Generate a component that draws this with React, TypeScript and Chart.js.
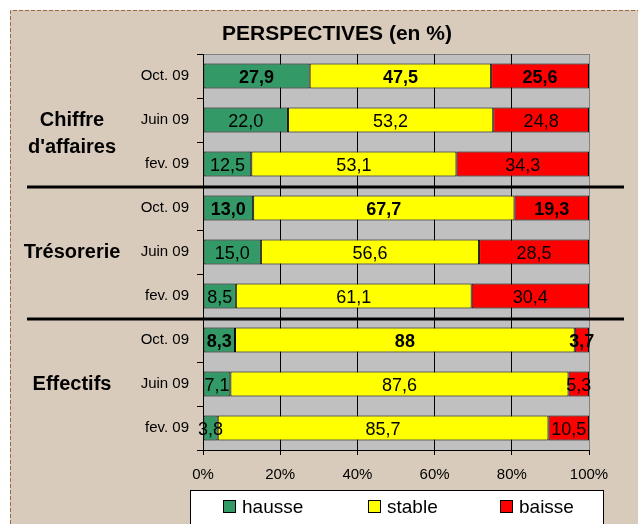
import React, { useEffect, useRef } from 'react';
import { Chart, registerables } from 'chart.js';

Chart.register(...registerables);

const TITLE = 'PERSPECTIVES (en %)';
const categories = ['Oct. 09', 'Juin 09', 'fev. 09', 'Oct. 09', 'Juin 09', 'fev. 09', 'Oct. 09', 'Juin 09', 'fev. 09'];
const groups = [['Chiffre', "d'affaires"], ['Trésorerie'], ['Effectifs']];
const seriesNames = ['hausse', 'stable', 'baisse'];
const hausse = ['27,9', '22,0', '12,5', '13,0', '15,0', '8,5', '8,3', '7,1', '3,8'];
const stable = ['47,5', '53,2', '53,1', '67,7', '56,6', '61,1', '88', '87,6', '85,7'];
const baisse = ['25,6', '24,8', '34,3', '19,3', '28,5', '30,4', '3,7', '5,3', '10,5'];
const xTickStep = 20;
const colors = ['#339966', '#FFFF00', '#FF0000'];

const FONT = '"Liberation Sans", Arial, sans-serif';

const series = [hausse, stable, baisse];
const num = (s: string) => parseFloat(s.replace(',', '.'));
const totals = categories.map((_, i) => series.reduce((acc, s) => acc + num(s[i]), 0));
const normalized = series.map((s) => s.map((v, i) => (num(v) / totals[i]) * 100));

const bgPlugin = {
  id: 'bg',
  beforeDraw(chart: any) {
    const { ctx, chartArea: a, width, height } = chart;
    ctx.save();
    ctx.fillStyle = '#ffffff';
    ctx.fillRect(0, 0, width, height);
    ctx.fillStyle = '#D9CBBB';
    ctx.fillRect(10, 10, width - 10, height - 10);
    ctx.strokeStyle = '#9B6A3C';
    ctx.lineWidth = 1;
    ctx.setLineDash([4, 2]);
    ctx.beginPath();
    ctx.moveTo(10.5, height);
    ctx.lineTo(10.5, 10.5);
    ctx.lineTo(width, 10.5);
    ctx.stroke();
    ctx.setLineDash([]);
    ctx.fillStyle = '#C0C0C0';
    ctx.fillRect(a.left, a.top, a.right - a.left, a.bottom - a.top);
    ctx.strokeStyle = '#808080';
    ctx.beginPath();
    ctx.moveTo(a.left, a.top + 0.5);
    ctx.lineTo(a.right + 0.5, a.top + 0.5);
    ctx.lineTo(a.right + 0.5, a.bottom);
    ctx.stroke();
    ctx.restore();
  },
};

const overlayPlugin = {
  id: 'overlay',
  afterDraw(chart: any) {
    const { ctx, scales } = chart;
    const y = scales.y;
    const band = y.getPixelForValue(1) - y.getPixelForValue(0);
    ctx.save();

    // separators between groups
    ctx.strokeStyle = '#000';
    ctx.lineWidth = 3;
    for (let g = 1; g < groups.length; g++) {
      const yy = y.getPixelForValue(g * 3 - 1) + band / 2 + 1;
      ctx.beginPath();
      ctx.moveTo(27, yy);
      ctx.lineTo(624, yy);
      ctx.stroke();
    }

    // group labels
    ctx.fillStyle = '#000';
    ctx.textAlign = 'center';
    ctx.textBaseline = 'alphabetic';
    ctx.font = `bold 20px ${FONT}`;
    groups.forEach((lines, g) => {
      const mid = y.getPixelForValue(g * 3 + 1);
      lines.forEach((ln, k) => {
        ctx.fillText(ln, 72, mid + 6 + k * 27);
      });
    });

    // data labels
    chart.data.datasets.forEach((ds: any, di: number) => {
      const meta = chart.getDatasetMeta(di);
      meta.data.forEach((bar: any, i: number) => {
        const cx = (bar.x + bar.base) / 2;
        ctx.font = `${i % 3 === 0 ? 'bold ' : ''}18px ${FONT}`;
        ctx.fillText(series[di][i], cx, bar.y + 6.5);
      });
    });

    // title
    ctx.font = `bold 21px ${FONT}`;
    ctx.fillText(TITLE, 337, 40);

    // legend
    ctx.fillStyle = '#fff';
    ctx.fillRect(190.5, 490.5, 413, 40);
    ctx.strokeStyle = '#000';
    ctx.lineWidth = 1;
    ctx.strokeRect(190.5, 490.5, 413, 40);
    const lx = [223, 368, 500];
    ctx.font = `19px ${FONT}`;
    ctx.textAlign = 'left';
    seriesNames.forEach((nm, k) => {
      ctx.fillStyle = colors[k];
      ctx.fillRect(lx[k] + 0.5, 500.5, 12, 12);
      ctx.strokeStyle = '#000';
      ctx.strokeRect(lx[k] + 0.5, 500.5, 12, 12);
      ctx.fillStyle = '#000';
      ctx.fillText(nm, lx[k] + 19, 512.5);
    });
    ctx.restore();
  },
};

export default function App() {
  const ref = useRef<HTMLCanvasElement>(null);
  useEffect(() => {
    if (!ref.current) return;
    const chart = new Chart(ref.current, {
      type: 'bar',
      data: {
        labels: categories,
        datasets: seriesNames.map((nm, k) => ({
          label: nm,
          data: normalized[k],
          backgroundColor: colors[k],
          borderColor: '#000',
          borderWidth: 1,
          borderSkipped: false,
          barPercentage: 0.57,
          categoryPercentage: 1,
        })),
      },
      options: {
        indexAxis: 'y',
        responsive: false,
        animation: false,
        events: [],
        layout: { padding: { left: 0, right: 49, top: 54, bottom: 0 } },
        plugins: { legend: { display: false }, tooltip: { enabled: false }, title: { display: false } },
        scales: {
          x: {
            type: 'linear',
            stacked: true,
            min: 0,
            max: 100,
            afterFit: (s: any) => {
              s.height = 74;
            },
            ticks: {
              stepSize: xTickStep,
              callback: (v: any) => v + '%',
              color: '#000',
              font: { family: FONT, size: 15 },
              padding: 11,
              maxRotation: 0,
            },
            grid: {
              color: (c: any) => (c.tick && c.tick.value === 100 ? '#808080' : '#000'),
              tickColor: '#000',
              tickLength: 5,
              lineWidth: 1,
            },
            border: { color: '#000', width: 1 },
          },
          y: {
            type: 'category',
            stacked: true,
            afterFit: (s: any) => {
              s.width = 203;
            },
            ticks: { color: '#000', font: { family: FONT, size: 15 }, padding: 8 },
            grid: { drawOnChartArea: false, tickColor: '#000', tickLength: 6, offset: true },
            border: { color: '#000', width: 1 },
          },
        },
      } as any,
      plugins: [bgPlugin, overlayPlugin],
    });
    return () => chart.destroy();
  }, []);
  return (
    <div style={{ position: 'fixed', left: 0, top: 0, width: 638, height: 524 }}>
      <canvas ref={ref} width={638} height={524} style={{ display: 'block' }} />
    </div>
  );
}
